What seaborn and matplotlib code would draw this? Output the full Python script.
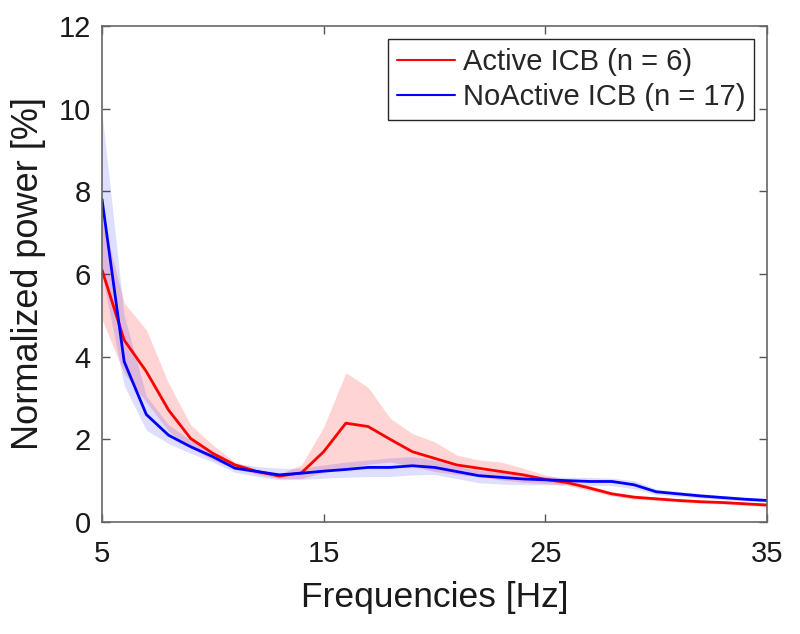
import numpy as np
import pandas as pd
import matplotlib
matplotlib.use("Agg")
import matplotlib.pyplot as plt
import seaborn as sns

freqs = list(range(5, 36))

active_mean = [6.10, 4.40, 3.64, 2.71, 2.02, 1.66, 1.38, 1.22, 1.11, 1.19, 1.70, 2.39, 2.31, 2.00,
               1.70, 1.54, 1.38, 1.30, 1.22, 1.14, 1.03, 0.95, 0.82, 0.68, 0.60, 0.56, 0.52, 0.49,
               0.47, 0.44, 0.41]
active_upper = [7.40, 5.30, 4.65, 3.36, 2.35, 1.86, 1.45, 1.28, 1.16, 1.38, 2.30, 3.61, 3.26, 2.51,
                2.14, 1.94, 1.62, 1.50, 1.45, 1.30, 1.14, 1.02, 0.88, 0.73, 0.65, 0.60, 0.56, 0.53,
                0.51, 0.48, 0.45]
active_lower = [4.90, 3.60, 2.90, 2.20, 1.80, 1.50, 1.30, 1.15, 1.05, 1.05, 1.20, 1.30, 1.40, 1.45,
                1.35, 1.22, 1.15, 1.10, 1.02, 0.96, 0.93, 0.88, 0.76, 0.63, 0.55, 0.52, 0.48, 0.45,
                0.43, 0.40, 0.37]

noactive_mean = [7.81, 3.88, 2.60, 2.10, 1.82, 1.58, 1.30, 1.22, 1.14, 1.18, 1.23, 1.27, 1.32, 1.32,
                 1.36, 1.32, 1.22, 1.12, 1.08, 1.04, 1.02, 1.00, 0.98, 0.98, 0.90, 0.73, 0.68, 0.63,
                 0.59, 0.55, 0.52]
noactive_upper = [9.90, 5.00, 3.05, 2.35, 1.98, 1.70, 1.42, 1.34, 1.30, 1.30, 1.38, 1.45, 1.50, 1.55,
                  1.58, 1.50, 1.35, 1.25, 1.20, 1.15, 1.10, 1.08, 1.08, 1.06, 1.00, 0.80, 0.74, 0.69,
                  0.64, 0.60, 0.57]
noactive_lower = [6.00, 3.30, 2.22, 1.90, 1.66, 1.45, 1.20, 1.10, 1.02, 1.03, 1.06, 1.08, 1.10, 1.10,
                  1.14, 1.15, 1.05, 0.95, 0.92, 0.90, 0.90, 0.90, 0.88, 0.88, 0.80, 0.66, 0.62, 0.58,
                  0.54, 0.51, 0.48]

labels = ["Active ICB (n = 6)", "NoActive ICB (n = 17)"]
colors = ["#ff0000", "#0000ff"]
x_ticks = [5, 15, 25, 35]
y_ticks = [0, 2, 4, 6, 8, 10, 12]

df = pd.DataFrame({
    "freq": freqs * 2,
    "power": active_mean + noactive_mean,
    "group": [labels[0]] * len(freqs) + [labels[1]] * len(freqs),
})

sns.set_theme(style="white")
plt.rcParams["font.family"] = ["Liberation Sans", "DejaVu Sans"]

fig = plt.figure(figsize=(8, 6.34), dpi=100)
ax = fig.add_axes([0.1275, 0.1767, 0.8313, 0.7823])

ax.fill_between(freqs, active_lower, active_upper, color=colors[0], alpha=0.17, linewidth=0)
ax.fill_between(freqs, noactive_lower, noactive_upper, color=colors[1], alpha=0.13, linewidth=0)

sns.lineplot(data=df, x="freq", y="power", hue="group", palette=colors,
             linewidth=2.0, ax=ax, legend=True)

ax.set_xlim(5, 35)
ax.set_ylim(0, 12)
ax.set_xticks(x_ticks)
ax.set_yticks(y_ticks)
ax.set_xlabel("Frequencies [Hz]", fontsize=25.5, color="#1a1a1a", labelpad=9)
ax.set_ylabel("Normalized power [%]", fontsize=26, color="#1a1a1a", labelpad=9)
ax.tick_params(direction="in", length=6, width=1, colors="#555555", labelcolor="#1a1a1a",
               labelsize=21, top=True, right=True, bottom=True, left=True)
ax.tick_params(axis="x", pad=13)
ax.tick_params(axis="y", pad=8)
for s in ax.spines.values():
    s.set_color("#666666")
    s.set_linewidth(1.2)

leg = ax.legend(loc="upper right", fontsize=21, frameon=True, fancybox=False,
                edgecolor="#262626", framealpha=1, handlelength=2.0, handletextpad=0.25,
                borderpad=0.3, labelspacing=0.25, borderaxespad=0.45)
leg.get_frame().set_linewidth(1.0)
for line in leg.get_lines():
    line.set_linewidth(1.5)

fig.savefig("out.png", dpi=100)
